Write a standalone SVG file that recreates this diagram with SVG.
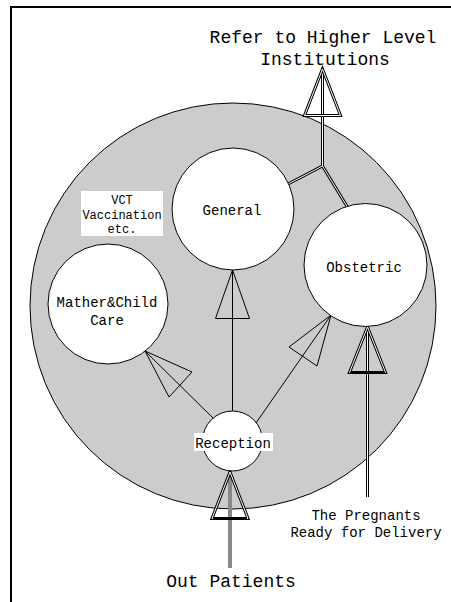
<svg xmlns="http://www.w3.org/2000/svg" width="451" height="602" viewBox="0 0 451 602">
<style>
text{font-family:"Liberation Mono","DejaVu Sans Mono",monospace;fill:#000;text-anchor:middle}
.big{font-size:18px}
.mid{font-size:14px}
.sm{font-size:12px}
.node{fill:#fff;stroke:#000;stroke-width:1}
.thin{fill:none;stroke:#000;stroke-width:1}
.dblo{fill:none;stroke:#000;stroke-width:3;stroke-linejoin:miter}
.dbli{fill:none;stroke:#fff;stroke-width:1;stroke-linejoin:miter}
</style>
<rect x="0" y="0" width="451" height="602" fill="#fff"/>
<path d="M11 602 V7 H451" fill="none" stroke="#000" stroke-width="2"/>
<g id="area">
<circle cx="233" cy="306" r="203" fill="#cccccc" stroke="#000" stroke-width="1"/>
</g>
<g id="connectors">
<!-- Reception to Mather&Child -->
<line class="thin" x1="213" y1="418" x2="145" y2="351"/>
<polygon class="thin" points="145,351 192,372 169,397"/>
<!-- Reception to General -->
<line class="thin" x1="232.5" y1="411" x2="232.5" y2="270"/>
<polygon class="thin" points="232.5,270 249.5,318.5 215.5,318.5"/>
<!-- Reception to Obstetric -->
<line class="thin" x1="256" y1="423" x2="331" y2="315"/>
<polygon class="thin" points="331,315 317,366 289,347"/>
<!-- General/Obstetric to higher level -->
<path class="dblo" d="M288 184 L322.5 166 L348 208 M322.5 166 V70"/>
<path class="dbli" d="M288 184 L322.5 166 L348 208 M322.5 166 V70"/>
<polygon class="dblo" points="322.5,69 340.5,115.5 304.5,115.5"/>
<polygon class="dbli" points="322.5,69 340.5,115.5 304.5,115.5"/>
<!-- Pregnants to Obstetric -->
<line class="dblo" x1="367.5" y1="497" x2="367.5" y2="328"/>
<line class="dbli" x1="367.5" y1="497" x2="367.5" y2="328"/>
<polygon class="dblo" points="367.5,327 385.5,372.5 349.5,372.5"/>
<polygon class="dbli" points="367.5,327 385.5,372.5 349.5,372.5"/>
<line x1="350" y1="373" x2="385" y2="373" stroke="#000" stroke-width="2"/>
<!-- Out patients to Reception -->
<line x1="230" y1="568" x2="230" y2="473" stroke="#888" stroke-width="4"/>
<polygon class="dblo" points="230,472 248,518.5 212,518.5"/>
<polygon class="dbli" points="230,472 248,518.5 212,518.5"/>
<line x1="213" y1="519" x2="247" y2="519" stroke="#000" stroke-width="2"/>
</g>
<g id="general">
<circle class="node" cx="233" cy="209" r="61"/>
<text class="mid" x="232" y="215">General</text>
</g>
<g id="obstetric">
<circle class="node" cx="365.5" cy="265" r="61.5"/>
<text class="mid" x="364" y="272">Obstetric</text>
</g>
<g id="mather">
<circle class="node" cx="108" cy="304" r="60"/>
<text class="mid" x="107" y="307">Mather&amp;Child</text>
<text class="mid" x="107" y="325">Care</text>
</g>
<g id="reception">
<circle class="node" cx="232.5" cy="441" r="30"/>
<rect x="194" y="433" width="79" height="18" fill="#fff"/>
<text class="mid" x="233" y="448">Reception</text>
</g>
<g id="vct">
<rect x="81" y="191" width="82" height="45" fill="#fff"/>
<text class="sm" x="122" y="204">VCT</text>
<text class="sm" x="122" y="218.5">Vaccination</text>
<text class="sm" x="122" y="233">etc.</text>
</g>
<g id="higher">
<text class="big" x="323" y="43">Refer to Higher Level</text>
<text class="big" x="325" y="65">Institutions</text>
</g>
<g id="pregnants">
<text class="mid" x="366" y="520">The Pregnants</text>
<text class="mid" x="366" y="537">Ready for Delivery</text>
</g>
<g id="outpatients">
<text class="big" x="231" y="587">Out Patients</text>
</g>
</svg>
